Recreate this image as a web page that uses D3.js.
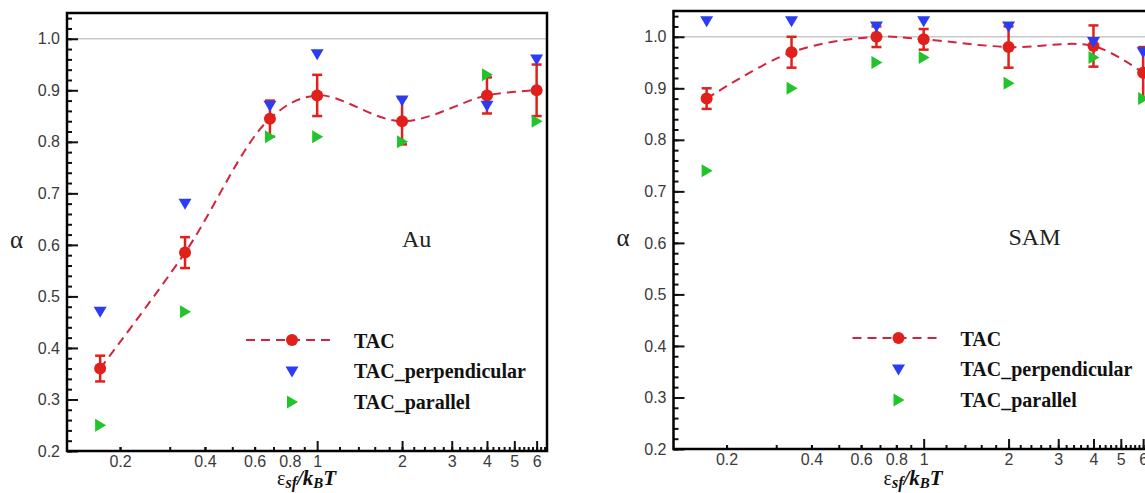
<!DOCTYPE html>
<html>
<head>
<meta charset="utf-8">
<script src="https://cdn.jsdelivr.net/npm/d3@7"></script>
<style>
  body { margin: 0; background: #fff; }
  svg { display: block; }
</style>
</head>
<body>
<script>
var width = 1145;
var height = 493;
var panelW = 480;
var panelH = 438;

// data
var xVals = [0.17, 0.34, 0.68, 1, 2, 4, 6];

var auTac = [0.36, 0.585, 0.845, 0.89, 0.84, 0.89, 0.90];
var auTacErr = [0.025, 0.03, 0.035, 0.04, 0.045, 0.035, 0.05];
var auPerp = [0.47, 0.68, 0.87, 0.97, 0.88, 0.87, 0.96];
var auPar = [0.25, 0.47, 0.81, 0.81, 0.80, 0.93, 0.84];

var samTac = [0.88, 0.97, 1.0, 0.995, 0.98, 0.982, 0.93];
var samTacErr = [0.02, 0.03, 0.02, 0.02, 0.04, 0.04, 0.05];
var samPerp = [1.03, 1.03, 1.02, 1.03, 1.02, 0.99, 0.97];
var samPar = [0.74, 0.90, 0.95, 0.96, 0.91, 0.96, 0.88];

var yTicks = [0.2, 0.3, 0.4, 0.5, 0.6, 0.7, 0.8, 0.9, 1.0];
var xTickLabels = [0.2, 0.4, 0.6, 0.8, 1, 2, 3, 4, 5, 6];
var xMajor = [1, 2, 3, 4, 5, 6];
var legendNames = ['TAC', 'TAC_perpendicular', 'TAC_parallel'];

var redCol = '#e0201b';
var lineCol = '#d3243e';
var blueCol = '#2b3cf5';
var greenCol = '#21c42a';

// marker shapes
var downTri = 'M-6.5,-5 L6.5,-5 L0,6 Z';
var rightTri = 'M-5,-6.5 L-5,6.5 L6,0 Z';

var xScale = d3.scaleLog().domain([0.1297, 6.53]).range([0, panelW]);
var yScale = d3.scaleLinear().domain([0.2, 1.05]).range([panelH, 0]);

var svg = d3.select('body')
  .append('svg')
  .attr('width', width)
  .attr('height', height);

drawPanel(67, 13, 'Au', auTac, auTacErr, auPerp, auPar);
drawPanel(673.5, 11, 'SAM', samTac, samTacErr, samPerp, samPar);

function drawPanel(x0, y0, name, tac, err, perp, par) {
  var g = svg.append('g').attr('transform', 'translate(' + x0 + ',' + y0 + ')');

  // reference line at 1.0
  g.append('line')
    .attr('x1', 0).attr('x2', panelW)
    .attr('y1', yScale(1)).attr('y2', yScale(1))
    .style('stroke', '#c8c8c8')
    .style('stroke-width', 1.5);

  drawAxes(g);
  drawSeries(g, tac, err, perp, par);
  drawLegend(g);

  g.append('text')
    .attr('x', 335).attr('y', 234)
    .style('font-family', '"Liberation Serif", serif')
    .style('font-size', '24px')
    .style('fill', '#222')
    .text(name);

  // alpha label
  g.append('text')
    .attr('x', -57).attr('y', 235)
    .style('font-family', '"Liberation Serif", serif')
    .style('font-size', '25px')
    .style('fill', '#222')
    .text('α');

  // x title, same absolute baseline for both panels
  var t = g.append('text')
    .attr('x', 210).attr('y', 485 - y0)
    .style('font-family', '"Liberation Serif", serif')
    .style('fill', '#111');
  t.append('tspan').style('font-size', '20px').text('ε');
  t.append('tspan').attr('dy', 3).style('font-size', '16px')
    .style('font-style', 'italic').style('font-weight', 'bold').text('sf');
  t.append('tspan').attr('dy', -3).style('font-size', '21px')
    .style('font-style', 'italic').style('font-weight', 'bold').text('/k');
  t.append('tspan').attr('dy', 3).style('font-size', '15px')
    .style('font-style', 'italic').style('font-weight', 'bold').text('B');
  t.append('tspan').attr('dy', -3).style('font-size', '21px')
    .style('font-style', 'italic').style('font-weight', 'bold').text('T');

  // frame
  g.append('rect')
    .attr('width', panelW).attr('height', panelH)
    .style('fill', 'none')
    .style('stroke', '#000')
    .style('stroke-width', 2.5);
}

function drawAxes(g) {
  var yMinor = d3.range(0.2, 1.05, 0.02);
  g.append('g')
    .call(d3.axisLeft(yScale).tickValues(yMinor).tickSize(-5).tickFormat(''))
    .call(styleAxis);

  g.append('g')
    .call(d3.axisLeft(yScale).tickValues(yTicks).tickSize(-11).tickPadding(7)
      .tickFormat(d3.format('.1f')))
    .call(styleAxis);

  var xMinor = d3.range(0.2, 1, 0.1).concat(d3.range(1.2, 6.5, 0.2));
  g.append('g')
    .attr('transform', 'translate(0,' + panelH + ')')
    .call(d3.axisBottom(xScale).tickValues(xMinor).tickSize(-4).tickFormat(''))
    .call(styleAxis);

  var xa = g.append('g')
    .attr('transform', 'translate(0,' + panelH + ')')
    .call(d3.axisBottom(xScale).tickValues(xTickLabels).tickSize(-4).tickPadding(5)
      .tickFormat(d3.format('~g')))
    .call(styleAxis);
  xa.selectAll('.tick line')
    .filter(function (d) { return xMajor.indexOf(d) >= 0; })
    .attr('y2', -10);
}

function styleAxis(a) {
  a.select('.domain').remove();
  a.selectAll('.tick line').style('stroke', '#111').style('stroke-width', 2);
  a.selectAll('.tick text')
    .style('font-family', '"Liberation Sans", Arial, sans-serif')
    .style('font-size', '16px')
    .style('fill', '#3a3a3a');
}

function drawSeries(g, tac, err, perp, par) {
  var pts = xVals.map(function (x, i) { return { x: x, y: tac[i], e: err[i] }; });

  // dashed smooth line
  var line = d3.line()
    .x(function (d) { return xScale(d.x); })
    .y(function (d) { return yScale(d.y); })
    .curve(d3.curveCatmullRom.alpha(0.5));
  g.append('path')
    .attr('d', line(pts))
    .style('fill', 'none')
    .style('stroke', lineCol)
    .style('stroke-width', 2)
    .style('stroke-dasharray', '9,6');

  // error bars
  var eb = g.selectAll('.err').data(pts).enter().append('g').attr('class', 'err');
  eb.append('line')
    .attr('x1', function (d) { return xScale(d.x); })
    .attr('x2', function (d) { return xScale(d.x); })
    .attr('y1', function (d) { return yScale(d.y - d.e); })
    .attr('y2', function (d) { return yScale(d.y + d.e); });
  eb.append('line')
    .attr('x1', function (d) { return xScale(d.x) - 5; })
    .attr('x2', function (d) { return xScale(d.x) + 5; })
    .attr('y1', function (d) { return yScale(d.y + d.e); })
    .attr('y2', function (d) { return yScale(d.y + d.e); });
  eb.append('line')
    .attr('x1', function (d) { return xScale(d.x) - 5; })
    .attr('x2', function (d) { return xScale(d.x) + 5; })
    .attr('y1', function (d) { return yScale(d.y - d.e); })
    .attr('y2', function (d) { return yScale(d.y - d.e); });
  eb.selectAll('line').style('stroke', redCol).style('stroke-width', 2.5);

  g.selectAll('.tac').data(pts).enter().append('circle')
    .attr('class', 'tac')
    .attr('cx', function (d) { return xScale(d.x); })
    .attr('cy', function (d) { return yScale(d.y); })
    .attr('r', 6)
    .style('fill', redCol);

  g.selectAll('.perp').data(perp).enter().append('path')
    .attr('class', 'perp')
    .attr('transform', function (d, i) { return 'translate(' + xScale(xVals[i]) + ',' + yScale(d) + ')'; })
    .attr('d', downTri)
    .style('fill', blueCol);

  g.selectAll('.par').data(par).enter().append('path')
    .attr('class', 'par')
    .attr('transform', function (d, i) { return 'translate(' + xScale(xVals[i]) + ',' + yScale(d) + ')'; })
    .attr('d', rightTri)
    .style('fill', greenCol);
}

function drawLegend(g) {
  var lx = 225;
  var rows = [327, 358.5, 389];
  var textY = [334.5, 365, 395.5];

  g.append('line')
    .attr('x1', lx - 46).attr('x2', lx + 41)
    .attr('y1', rows[0]).attr('y2', rows[0])
    .style('stroke', lineCol)
    .style('stroke-width', 2)
    .style('stroke-dasharray', '9,6');
  g.append('circle')
    .attr('cx', lx).attr('cy', rows[0]).attr('r', 6)
    .style('fill', redCol);
  g.append('path')
    .attr('transform', 'translate(' + lx + ',' + rows[1] + ')')
    .attr('d', downTri)
    .style('fill', blueCol);
  g.append('path')
    .attr('transform', 'translate(' + lx + ',' + rows[2] + ')')
    .attr('d', rightTri)
    .style('fill', greenCol);

  g.selectAll('.leg').data(legendNames).enter().append('text')
    .attr('class', 'leg')
    .attr('x', lx + 62)
    .attr('y', function (d, i) { return textY[i]; })
    .style('font-family', '"Liberation Serif", serif')
    .style('font-weight', 'bold')
    .style('font-size', '20px')
    .style('fill', '#111')
    .text(function (d) { return d; });
}
</script>
</body>
</html>
